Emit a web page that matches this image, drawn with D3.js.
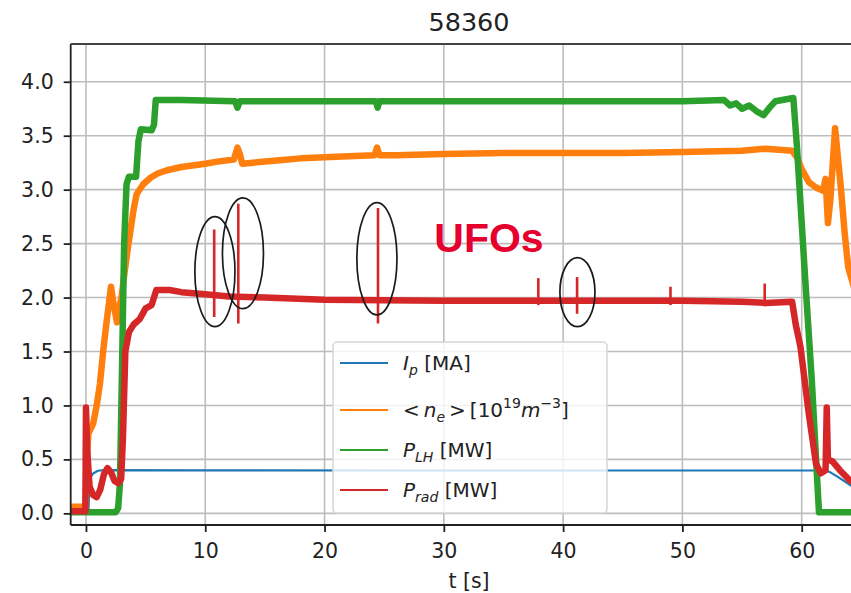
<!DOCTYPE html>
<html>
<head>
<meta charset="utf-8">
<script src="https://cdn.jsdelivr.net/npm/d3@7"></script>
<style>
  html, body { margin: 0; padding: 0; background: #fff; overflow: hidden; }
  svg { display: block; }
</style>
</head>
<body>
<svg id="chart" width="851" height="593"></svg>
<script>
// ---------------- DATA ----------------
const titleText = "58360";
const xLabel = "t [s]";
const xTicks = [0, 10, 20, 30, 40, 50, 60];
const yTicks = [0.0, 0.5, 1.0, 1.5, 2.0, 2.5, 3.0, 3.5, 4.0];

// Plasma current Ip [MA]  ([t, value])
const ipData = [
  [-1.3, 0.0], [0.2, 0.0], [0.3, 0.32], [0.6, 0.37], [1.0, 0.395], [1.5, 0.40],
  [10, 0.398], [30, 0.397], [50, 0.397], [62.0, 0.397], [62.4, 0.38],
  [63.0, 0.34], [64.1, 0.26], [65.5, 0.17]
];

// Line-averaged density <ne> [1e19 m^-3]
const neData = [
  [-1.3, 0.06], [-0.05, 0.06], [0.1, 0.55], [0.2, 0.74], [0.6, 0.83], [0.9, 1.0],
  [1.17, 1.2], [1.45, 1.51], [1.7, 1.75], [1.95, 1.97], [2.1, 2.1], [2.3, 1.95],
  [2.6, 1.77], [2.8, 1.9], [3.0, 2.02], [3.2, 2.2], [3.5, 2.45], [3.7, 2.6],
  [4.0, 2.82], [4.25, 2.96], [4.8, 3.05], [5.4, 3.11], [6.0, 3.15], [6.8, 3.18],
  [8.0, 3.21], [10.0, 3.24], [11.0, 3.26], [12.4, 3.28], [12.7, 3.39], [12.9, 3.33],
  [13.1, 3.24], [14.0, 3.25], [16.0, 3.27], [18.0, 3.29], [20.0, 3.30], [22.0, 3.31],
  [24.2, 3.32], [24.4, 3.39], [24.6, 3.32], [26.0, 3.32], [30.0, 3.33], [35.0, 3.34],
  [40.0, 3.34], [45.0, 3.34], [50.0, 3.35], [55.0, 3.36], [57.0, 3.38], [59.2, 3.36],
  [59.6, 3.30], [60.0, 3.19], [60.6, 3.07], [61.2, 3.02], [61.8, 2.99], [62.0, 3.10],
  [62.2, 2.69], [62.4, 2.90], [62.8, 3.57], [63.3, 3.00], [63.6, 2.60], [63.9, 2.28],
  [64.5, 2.05], [65.5, 1.85]
];

// Lower hybrid power P_LH [MW]
const plhData = [
  [-1.3, 0.01], [2.5, 0.01], [2.7, 0.05], [2.85, 0.28], [3.0, 1.2], [3.2, 2.5],
  [3.4, 3.05], [3.6, 3.12], [4.2, 3.12], [4.4, 3.45], [4.6, 3.56], [5.5, 3.55],
  [5.7, 3.6], [5.85, 3.83], [8.0, 3.83], [12.5, 3.82], [12.7, 3.76], [12.9, 3.82],
  [20.0, 3.82], [24.3, 3.82], [24.45, 3.76], [24.6, 3.82], [30.0, 3.82], [40.0, 3.82],
  [50.0, 3.82], [53.5, 3.83], [54.0, 3.78], [54.5, 3.80], [55.0, 3.75], [55.6, 3.78],
  [56.3, 3.72], [56.8, 3.69], [57.3, 3.76], [57.8, 3.82], [59.3, 3.85], [59.6, 3.40],
  [59.8, 3.05], [60.3, 2.16], [60.85, 1.23], [61.3, 0.31], [61.45, 0.01], [65.5, 0.01]
];

// Radiated power P_rad [MW] (base trace)
const pradData = [
  [-1.3, 0.02], [-0.05, 0.02], [0.0, 0.98], [0.1, 0.6], [0.3, 0.25], [0.6, 0.17],
  [0.9, 0.15], [1.2, 0.22], [1.5, 0.36], [1.8, 0.42], [2.1, 0.38], [2.4, 0.30],
  [2.7, 0.28], [2.95, 0.32], [3.1, 0.7], [3.3, 1.5], [3.6, 1.68], [4.0, 1.75],
  [4.5, 1.80], [5.0, 1.90], [5.5, 1.93], [5.9, 2.07], [7.0, 2.07], [8.0, 2.05],
  [10.0, 2.03], [12.0, 2.01], [15.0, 2.00], [20.0, 1.98], [30.0, 1.97], [40.0, 1.97],
  [50.0, 1.97], [55.0, 1.96], [57.0, 1.95], [59.2, 1.96], [59.5, 1.75], [59.9, 1.54],
  [60.6, 0.92], [61.2, 0.46], [61.6, 0.37], [62.0, 0.40], [62.1, 0.98], [62.2, 0.50],
  [62.6, 0.48], [63.2, 0.40], [64.0, 0.31], [65.5, 0.20]
];

// P_rad spikes ("UFOs"): [t, top, bottom]
const pradSpikes = [
  [10.75, 2.63, 1.82], [12.77, 2.87, 1.76], [24.48, 2.83, 1.76],
  [37.92, 2.18, 1.93], [41.17, 2.19, 1.85], [49.0, 2.10, 1.93], [56.9, 2.13, 1.92]
];

// Annotation ellipses around UFO events: [t, value, radius t, radius value]
const ufoEllipses = [
  [10.81, 2.24, 1.68, 0.51],
  [13.16, 2.41, 1.72, 0.513],
  [24.39, 2.36, 1.68, 0.52],
  [41.2, 2.05, 1.47, 0.32]
];
const ufoLabel = { text: "UFOs", t: 29.2, v: 2.42 };

const seriesColors = ["#1f77b4", "#ff7f0e", "#2ca02c", "#d62728"];

// Legend labels (mathtext parts): i = italic, s = 'sub' | 'sup'
const legendLabels = [
  [{ t: "I", i: 1 }, { t: "p", i: 1, s: "sub" }, { t: " [MA]" }],
  [{ t: "<\u2009" }, { t: "n", i: 1 }, { t: "e", i: 1, s: "sub" }, { t: "\u2009>\u2009[10" },
   { t: "19", s: "sup" }, { t: "m", i: 1 }, { t: "\u22123", s: "sup" }, { t: "]" }],
  [{ t: "P", i: 1 }, { t: "LH", i: 1, s: "sub" }, { t: " [MW]" }],
  [{ t: "P", i: 1 }, { t: "rad", i: 1, s: "sub" }, { t: " [MW]" }]
];

// ---------------- CHART ----------------
const svg = d3.select("#chart");
const font = "'DejaVu Sans', sans-serif";
const L = 70.7, T = 44, R = 867.3, B = 525;

const x = d3.scaleLinear().domain([-1.28, 65.5]).range([L, R]);
const y = d3.scaleLinear().domain([-0.108, 4.35]).range([B, T]);

svg.append("defs").append("clipPath").attr("id", "plotclip")
  .append("rect").attr("x", L).attr("y", T).attr("width", R - L).attr("height", B - T);

// grid
const grid = svg.append("g").attr("stroke", "#bdbdbd").attr("stroke-width", 1.6);
grid.selectAll(".gx").data(xTicks).join("line")
  .attr("x1", d => x(d)).attr("x2", d => x(d)).attr("y1", T).attr("y2", B);
grid.selectAll(".gy").data(yTicks).join("line")
  .attr("x1", L).attr("x2", R).attr("y1", d => y(d)).attr("y2", d => y(d));

// lines
const plot = svg.append("g").attr("clip-path", "url(#plotclip)");
const line = d3.line().x(d => x(d[0])).y(d => y(d[1]));
const allSeries = [ipData, neData, plhData, pradData];
const widths = [2.2, 6.5, 6.5, 6.5];
allSeries.forEach((s, k) => {
  plot.append("path").datum(s).attr("d", line)
    .attr("fill", "none").attr("stroke", seriesColors[k])
    .attr("stroke-width", widths[k]).attr("stroke-linejoin", "round");
});
plot.selectAll(".spike").data(pradSpikes).join("line")
  .attr("x1", d => x(d[0])).attr("x2", d => x(d[0]))
  .attr("y1", d => y(d[1])).attr("y2", d => y(d[2]))
  .attr("stroke", seriesColors[3]).attr("stroke-width", 2.6);

// ellipses
const kx = x(1) - x(0), ky = y(0) - y(1);
svg.selectAll(".ell").data(ufoEllipses).join("ellipse")
  .attr("cx", d => x(d[0])).attr("cy", d => y(d[1]))
  .attr("rx", d => d[2] * kx).attr("ry", d => d[3] * ky)
  .attr("fill", "none").attr("stroke", "#1a1a1a").attr("stroke-width", 1.7);

svg.append("text").attr("x", x(ufoLabel.t)).attr("y", y(ufoLabel.v))
  .attr("font-family", "'Liberation Sans', Arial, sans-serif").attr("font-weight", "bold")
  .attr("font-size", 41).attr("fill", "#e6002e").text(ufoLabel.text);

// legend
const lg = svg.append("g");
lg.append("rect").attr("x", 333).attr("y", 342).attr("width", 274).attr("height", 171)
  .attr("rx", 4).attr("fill", "#fff").attr("fill-opacity", 0.8)
  .attr("stroke", "#d6d6d6").attr("stroke-width", 1.5);
const rowY = [363, 410, 450, 490];
legendLabels.forEach((parts, k) => {
  lg.append("line").attr("x1", 340).attr("x2", 388).attr("y1", rowY[k]).attr("y2", rowY[k])
    .attr("stroke", seriesColors[k]).attr("stroke-width", 2.2);
  const txt = lg.append("text").attr("x", 403).attr("y", rowY[k] + 7)
    .attr("font-family", font).attr("font-size", 20).attr("fill", "#222");
  let cur = 0;
  parts.forEach(p => {
    const target = p.s === "sub" ? 5 : p.s === "sup" ? -9 : 0;
    txt.append("tspan").attr("dy", target - cur)
      .attr("font-style", p.i ? "italic" : "normal")
      .attr("font-size", p.s ? 14 : 20)
      .style("white-space", "pre")
      .text(p.t);
    cur = target;
  });
});

// axes
const xAxis = svg.append("g").attr("transform", `translate(0,${B})`)
  .call(d3.axisBottom(x).tickValues(xTicks).tickFormat(d3.format("d")).tickSize(7).tickPadding(11));
const yAxis = svg.append("g").attr("transform", `translate(${L},0)`)
  .call(d3.axisLeft(y).tickValues(yTicks).tickFormat(d3.format(".1f")).tickSize(7).tickPadding(10));
[xAxis, yAxis].forEach(a => {
  a.select(".domain").remove();
  a.selectAll(".tick line").attr("stroke", "#222").attr("stroke-width", 1.8);
  a.selectAll(".tick text").attr("font-family", font).attr("font-size", 20.5).attr("fill", "#222");
});

// spines
const sp = svg.append("g").attr("stroke", "#222").attr("stroke-width", 1.8);
sp.append("line").attr("x1", L).attr("x2", L).attr("y1", T).attr("y2", B);
sp.append("line").attr("x1", L).attr("x2", R).attr("y1", B).attr("y2", B);
sp.append("line").attr("x1", L).attr("x2", R).attr("y1", T).attr("y2", T).attr("stroke", "#444");

// title and x label
svg.append("text").attr("x", (L + R) / 2).attr("y", 31).attr("text-anchor", "middle")
  .attr("font-family", font).attr("font-size", 25.5).attr("fill", "#222").text(titleText);
svg.append("text").attr("x", (L + R) / 2).attr("y", 588).attr("text-anchor", "middle")
  .attr("font-family", font).attr("font-size", 20.5).attr("fill", "#222").text(xLabel);
</script>
</body>
</html>
